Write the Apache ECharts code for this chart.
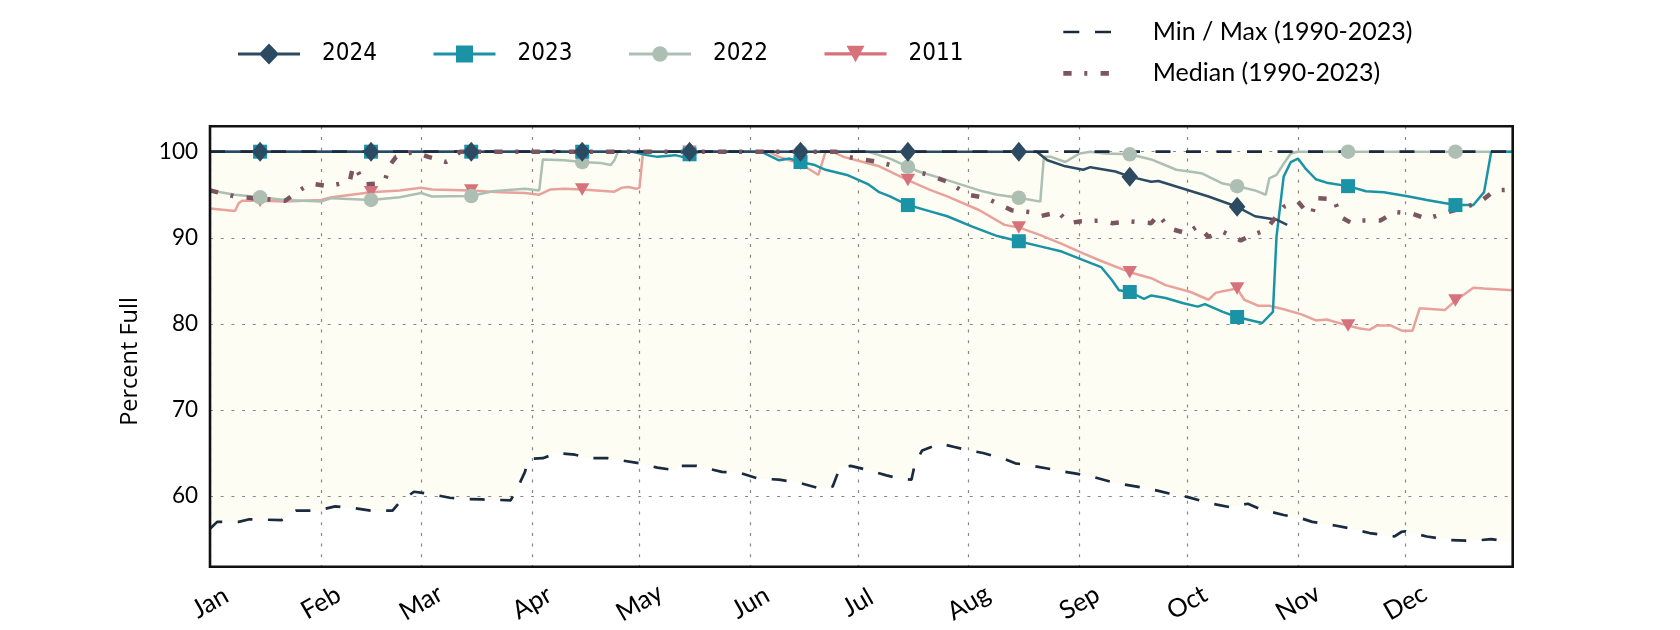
<!DOCTYPE html>
<html>
<head>
<meta charset="utf-8">
<script src="https://cdn.jsdelivr.net/npm/echarts@6/dist/echarts.min.js"></script>
<style>html,body{margin:0;padding:0;background:#fff}#c{width:1680px;height:630px}</style>
</head>
<body>
<div id="c"></div>
<script>
// ---- axes ----
const monthLabels = ['Jan','Feb','Mar','Apr','May','Jun','Jul','Aug','Sep','Oct','Nov','Dec'];
const monthStartDays = [0,31,59,90,120,151,181,212,243,273,304,334];
const yTicks = [60,70,80,90,100];
const markerDays = [14,45,73,104,134,165,195,226,257,287,318,348];

// ---- data (day of year index, percent full) ----
const days2024 = [0,14,45,73,104,134,165,195,226,231,234,239,244,246,253,257,263,265,272,279,287,292,298,301];
const pct2024  = [100,100,100,100,100,100,100,100,100,100,99.0,98.3,97.9,98.2,97.7,97.1,96.5,96.6,95.7,94.8,93.6,92.5,92.1,91.5];

const days2023 = [0,14,45,73,104,118,122,125,130,132,134,137,154,159,162,165,169,172,178,184,187,190,195,201,206,213,220,226,232,238,244,249,252,254,257,261,263,267,272,276,278,283,287,291,294,297,298,300,302,304,306,309,312,318,323,328,335,340,348,353,356,358,364];
const pct2023  = [100,100,100,100,100,100,99.6,99.4,99.6,99.4,99.7,100,100,99.0,99.2,98.8,98.45,97.9,97.3,96.2,95.3,94.8,93.8,93.1,92.5,91.3,90.2,89.6,89.0,88.4,87.4,86.6,85.1,83.9,83.7,82.9,83.3,83.0,82.4,82.0,82.3,81.4,80.8,80.4,80.1,81.4,90.1,97.1,98.8,99.2,98.1,96.8,96.4,96.0,95.4,95.3,94.8,94.4,93.8,93.8,95.3,100,100];

const days2022 = [0,7,14,21,31,34,45,53,59,62,73,79,88,92,93,99,104,109,112,113,114,134,165,184,190,195,198,206,215,220,226,232,233,235,239,243,246,250,257,263,270,277,283,287,292,295,296,298,300,302,304,318,348,364];
const pct2022  = [95.5,95.0,94.7,94.4,94.2,94.6,94.4,94.7,95.2,94.8,94.85,95.4,95.7,95.5,99.1,99.0,98.8,98.7,98.45,99.0,100,100,100,100,99.2,98.25,97.7,96.7,95.5,95.0,94.65,94.2,99.4,99.4,98.8,99.8,100,99.8,99.7,99.1,97.9,97.5,96.3,96.0,95.5,95.0,96.9,97.3,98.6,99.8,100,100,100,100];

const days2011 = [0,7,8,9,14,21,31,34,45,53,59,62,73,81,88,92,95,99,104,108,113,115,117,119,120,121,134,156,159,165,170,172,174,177,187,195,201,206,215,222,226,232,238,244,249,257,263,267,274,279,281,283,287,289,293,296,300,305,309,312,318,321,324,326,330,333,336,338,342,345,348,350,353,356,364];
const pct2011  = [93.4,93.1,94.0,94.3,94.3,94.2,94.4,94.7,95.3,95.5,95.8,95.6,95.5,95.3,95.2,95.0,95.6,95.7,95.6,95.5,95.35,95.8,95.9,95.7,95.8,100,100,100,99.4,98.6,97.3,100,100,99.4,98.3,96.7,95.6,94.8,93.2,91.5,91.2,90.3,89.3,88.2,87.3,86.0,85.3,84.5,83.7,82.8,83.6,83.8,84.1,82.8,82.1,82.1,81.7,81.1,80.4,80.5,79.8,79.5,79.3,79.8,79.8,79.2,79.2,81.8,81.7,81.6,82.7,83.3,84.2,84.1,83.9];

const daysMedian = [0,7,12,21,25,28,33,39,40,41,43,47,49,50,52,57,61,66,70,175,178,187,196,201,206,212,217,224,229,232,237,240,243,249,252,257,263,265,268,273,276,279,283,288,291,295,300,304,306,308,309,314,316,319,322,327,331,336,340,346,351,355,359,364];
const pctMedian  = [95.5,94.8,94.6,94.3,95.5,96.3,96.0,96.5,98.3,98.0,96.2,96.3,96.8,98.3,99.4,100,99.4,98.8,100,100,99.4,98.8,97.8,97.3,96.5,95.0,94.6,93.2,93.0,92.5,93.0,91.7,91.9,92.0,91.7,91.9,91.7,92.7,91.1,90.5,91.4,90.1,90.7,89.7,90.3,90.9,93.6,94.2,93.2,92.8,94.6,94.5,92.4,91.7,92.0,92.0,93.0,92.8,92.2,93.0,93.6,94.2,95.5,95.6];

const daysMin = [0,2,8,11,20,22,24,30,35,40,45,51,53,57,62,67,72,76,84,86,88,89,93,97,102,106,111,120,125,130,131,136,143,148,153,159,165,171,174,176,179,184,189,193,196,197,199,204,208,212,216,222,225,230,234,239,242,247,253,259,265,268,273,279,285,287,290,294,300,305,308,314,319,324,331,333,334,340,346,353,358,361,364];
const pctMin  = [56.2,57.0,57.0,57.3,57.2,57.9,58.3,58.3,58.8,58.6,58.3,58.3,59.3,60.5,60.2,59.8,59.65,59.6,59.5,61.0,62.8,64.3,64.4,65.0,64.8,64.4,64.4,63.8,63.3,63.0,63.5,63.5,62.8,62.7,62.05,61.9,61.5,60.8,61.1,63.3,63.5,63.0,62.4,62.0,61.9,63.8,65.3,66.1,65.7,65.3,65.0,64.3,63.8,63.5,63.2,62.8,62.6,62.2,61.5,61.1,60.6,60.3,59.9,59.2,58.7,58.9,59.1,58.4,57.8,57.4,57.0,56.6,56.2,55.7,55.3,55.85,55.9,55.3,54.9,54.8,55.0,54.8,54.8];

const daysMax = [0,364];
const pctMax  = [100,100];

// ---- helpers ----
const zip = (d, v) => d.map((x, i) => [x, v[i]]);
const pickMarkers = (d, v) => zip(d, v).filter(p => markerDays.includes(p[0]));

const C = {
  y2024: '#2c4a61', y2023: '#1a93a7', y2022: '#adbfb3', y2011: '#d5727b', y2011line: '#e8a29c',
  minmax: '#1a2a3f', median: '#7b5660', band: '#fdfdf3'
};
const FONT = 'Lato';

function yearLine(name, d, v, color, z, lineColor) {
  return { name, type: 'line', data: zip(d, v), symbol: 'none', showSymbol: false, z,
    color, lineStyle: { color: lineColor || color, width: 2.5 }, silent: true };
}
function yearMarkers(name, d, v, color, symbol, size, z, rot) {
  return { name, type: 'scatter', data: pickMarkers(d, v), symbol, symbolSize: size, symbolRotate: rot || 0, z,
    itemStyle: { color, opacity: 1, borderWidth: 0 }, silent: true };
}

const LINE = 'M0,8.9H62V12.1H0Z ';
const ICONS = {
  y2024: 'path://' + LINE + 'M31,0L41,10.5L31,21L21,10.5Z',
  y2023: 'path://' + LINE + 'M22.5,2H39.5V19H22.5Z',
  y2022: 'path://' + LINE + 'M23.3,10.5A7.7,7.7 0 1,1 38.7,10.5A7.7,7.7 0 1,1 23.3,10.5Z',
  y2011: 'path://' + LINE + 'M22,2.2H40L31,18.9Z',
  minmax: 'path://M0,0H16V2.7H0Z M31.7,0H47.7V2.7H31.7Z',
  median: 'path://M0,0H8.3V4.7H0Z M21,0H24V4.7H21Z M37.3,0H45.6V4.7H37.3Z'
};

function yearLegend(name, icon, color, left) {
  return { data: [{ name, icon, itemStyle: { color, borderWidth: 0 } }], left, top: 42, padding: 0,
    itemWidth: 62, itemHeight: 21, selectedMode: false,
    textStyle: { fontFamily: 'DejaVu Sans Condensed', fontSize: 24, color: '#000', padding: [0, 0, 0, 17] } };
}
function refLegend(name, icon, color, top, w, h, pad) {
  return { data: [{ name, icon, itemStyle: { color, borderWidth: 0 } }], left: 1063.3, top, padding: 0,
    itemWidth: w, itemHeight: h, selectedMode: false,
    textStyle: { fontFamily: FONT, fontSize: 25, color: '#000', padding: [0, 0, 0, pad] } };
}

const chart = echarts.init(document.getElementById('c'), null, { renderer: 'canvas' });
chart.setOption({
  animation: false,
  backgroundColor: '#ffffff',
  grid: { left: 210, right: 167.3, top: 126.3, bottom: 63.3, show: true, borderColor: '#111', borderWidth: 2.6,
    backgroundColor: 'transparent', z: 10, outerBoundsMode: 'none', containLabel: false },
  legend: [
    yearLegend('2024', ICONS.y2024, C.y2024, 238),
    yearLegend('2023', ICONS.y2023, C.y2023, 433.5),
    yearLegend('2022', ICONS.y2022, C.y2022, 629),
    yearLegend('2011', ICONS.y2011, C.y2011, 824.5),
    refLegend('Min / Max (1990-2023)', ICONS.minmax, C.minmax, 19.5, 47.7, 2.7, 36.7),
    refLegend('Median (1990-2023)', ICONS.median, C.median, 60.8, 45.6, 4.7, 38.8)
  ],
  xAxis: {
    type: 'value', min: 0, max: 364, z: 1.5,
    axisLine: { show: false },
    axisTick: { show: false, customValues: monthStartDays },
    axisLabel: { customValues: monthStartDays, formatter: v => monthLabels[monthStartDays.indexOf(v)] || '',
      rotate: 30, align: 'center', verticalAlign: 'middle', margin: 36,
      fontFamily: FONT, fontSize: 25.5, color: '#000' },
    splitLine: { show: true, lineStyle: { color: '#888', width: 1.2, type: [3, 7.7] } }
  },
  yAxis: {
    type: 'value', min: 51.79, max: 102.95, z: 1.5,
    name: 'Percent Full', nameLocation: 'middle', nameGap: 68,
    nameTextStyle: { fontFamily: 'Open Sans', fontSize: 23.5, color: '#000', padding: [0, 30, 0, 0] },
    axisLine: { show: false },
    axisTick: { show: false, customValues: yTicks },
    axisLabel: { customValues: yTicks, margin: 12, fontFamily: FONT, fontSize: 22.5, color: '#000' },
    splitLine: { show: true, lineStyle: { color: '#888', width: 1.2, type: [3, 7.7] } }
  },
  series: [
    { name: '_bandTop', type: 'line', data: zip(daysMax, pctMax), symbol: 'none', z: 1, silent: true,
      lineStyle: { width: 0, opacity: 0 }, areaStyle: { color: C.band, opacity: 1, origin: 'start' } },
    { name: '_bandBottom', type: 'line', data: zip(daysMin, pctMin), symbol: 'none', z: 1.2, silent: true,
      lineStyle: { width: 0, opacity: 0 }, areaStyle: { color: '#ffffff', opacity: 1, origin: 'start' } },

    yearLine('2011', days2011, pct2011, C.y2011, 3, C.y2011line),
    yearLine('2022', days2022, pct2022, C.y2022, 4),
    yearLine('2023', days2023, pct2023, C.y2023, 5),
    yearLine('2024', days2024, pct2024, C.y2024, 6),

    { name: 'Min / Max (1990-2023)', type: 'line', data: zip(daysMin, pctMin), symbol: 'none', z: 7, silent: true,
      color: C.minmax, lineStyle: { color: C.minmax, width: 2.7, type: [15, 15.5] } },
    { name: 'Min / Max (1990-2023)', type: 'line', data: zip(daysMax, pctMax), symbol: 'none', z: 7, silent: true,
      color: C.minmax, lineStyle: { color: C.minmax, width: 2.7, type: [15, 15.5] } },
    { name: 'Median (1990-2023)', type: 'line', data: zip(daysMedian, pctMedian), symbol: 'none', z: 8, silent: true,
      color: C.median, lineStyle: { color: C.median, width: 4.5, type: [8.3, 12.7, 3, 13.3] } },

    yearMarkers('2011', days2011, pct2011, C.y2011, 'triangle', [14.5, 12.5], 9, 180),
    yearMarkers('2022', days2022, pct2022, C.y2022, 'circle', 14.5, 10),
    yearMarkers('2023', days2023, pct2023, C.y2023, 'rect', 14, 11),
    yearMarkers('2024', days2024, pct2024, C.y2024, 'diamond', [16.5, 20], 12)
  ]
});
</script>
</body>
</html>
